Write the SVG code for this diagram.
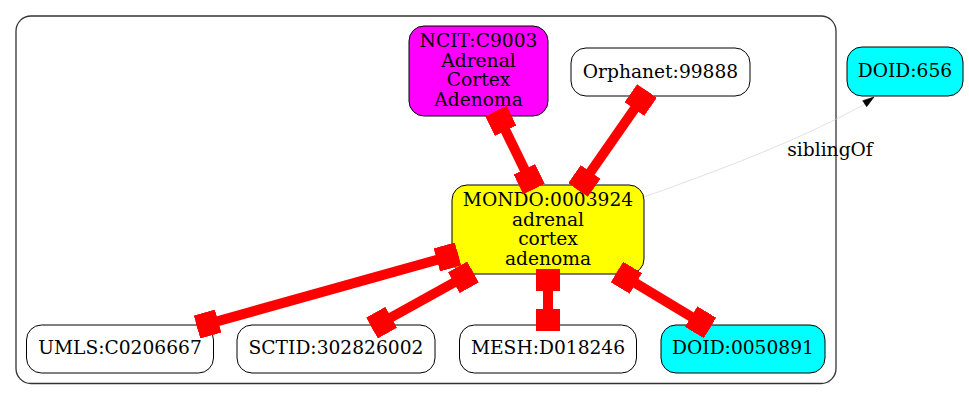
<svg xmlns="http://www.w3.org/2000/svg" width="969" height="400" viewBox="0 0 969 400">
<style>
.n{stroke:#000;stroke-width:1}
.t{font-family:"DejaVu Serif","Liberation Serif",serif;font-size:18.67px;fill:#000;text-anchor:middle}
.e{stroke:#f00;stroke-width:10;fill:none;marker-start:url(#box);marker-end:url(#box)}
</style>
<defs>
<marker id="box" viewBox="-22 -12 22 24" refX="0" refY="0" markerWidth="22" markerHeight="24" markerUnits="userSpaceOnUse" orient="auto-start-reverse">
<rect x="-22" y="-12" width="22" height="24" fill="#f00"/>
</marker>
</defs>
<rect width="969" height="400" fill="#fff"/>
<g id="cluster">
<rect x="16" y="16" width="820" height="367.5" rx="15" fill="none" stroke="#333" stroke-width="1.3"/>
</g>
<g id="ncit">
<rect class="n" x="409" y="26" width="139" height="90" rx="15" fill="#f0f"/>
<text class="t" x="478.5" y="47">NCIT:C9003</text>
<text class="t" x="478.5" y="66.5">Adrenal</text>
<text class="t" x="478.5" y="86">Cortex</text>
<text class="t" x="478.5" y="105.5">Adenoma</text>
</g>
<g id="orphanet">
<rect class="n" x="571" y="48" width="179" height="48" rx="15" fill="#fff"/>
<text class="t" x="660.5" y="78">Orphanet:99888</text>
</g>
<g id="doid656">
<rect class="n" x="847" y="47" width="116" height="49" rx="15" fill="#0ff"/>
<text class="t" x="905" y="77">DOID:656</text>
</g>
<g id="mondo">
<rect class="n" x="452" y="185" width="192" height="89" rx="15" fill="#ff0"/>
<text class="t" x="548" y="206">MONDO:0003924</text>
<text class="t" x="548" y="225.5">adrenal</text>
<text class="t" x="548" y="245">cortex</text>
<text class="t" x="548" y="264.5">adenoma</text>
</g>
<g id="umls">
<rect class="n" x="26.5" y="325" width="187" height="48" rx="15" fill="#fff"/>
<text class="t" x="120" y="354">UMLS:C0206667</text>
</g>
<g id="sctid">
<rect class="n" x="237" y="325" width="198" height="48" rx="15" fill="#fff"/>
<text class="t" x="336" y="354">SCTID:302826002</text>
</g>
<g id="mesh">
<rect class="n" x="459.5" y="325" width="177" height="48" rx="15" fill="#fff"/>
<text class="t" x="548" y="354">MESH:D018246</text>
</g>
<g id="doid0050891">
<rect class="n" x="661" y="325" width="164" height="48" rx="15" fill="#0ff"/>
<text class="t" x="743" y="354">DOID:0050891</text>
</g>
<g id="connectors">
<line class="e" x1="496" y1="111" x2="534" y2="189"/>
<line class="e" x1="647" y1="91" x2="578" y2="190"/>
<line class="e" x1="458" y1="254" x2="197" y2="327"/>
<line class="e" x1="473" y1="272" x2="372" y2="328"/>
<line class="e" x1="548" y1="269" x2="548" y2="331"/>
<line class="e" x1="617" y1="272" x2="710" y2="328"/>
<path d="M644,197 C720,170 800,140 865,104" fill="none" stroke="#ccc" stroke-width="0.6"/>
<polygon points="874,97 862.7,100.7 866.7,106.7" fill="#000" stroke="#000" stroke-width="0.6"/>
<text class="t" x="830" y="156">siblingOf</text>
</g>
</svg>
